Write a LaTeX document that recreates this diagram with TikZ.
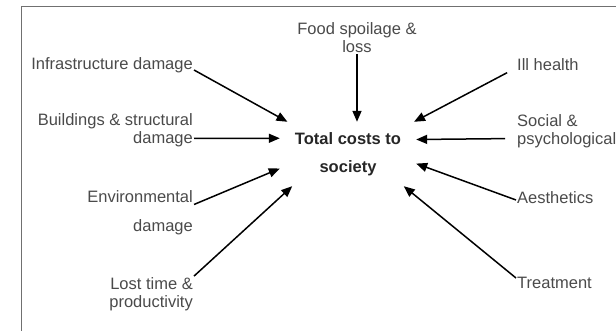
\documentclass[tikz,border=0pt]{standalone}
\usepackage{fontspec}
\setmainfont{Liberation Sans}
\usepackage{tikz}
\usetikzlibrary{arrows.meta}
\usetikzlibrary{positioning}
\definecolor{labelgrey}{HTML}{4A4A4A}
\definecolor{framegrey}{HTML}{707070}
\tikzset{costbox/.style = {text = labelgrey, inner sep = 1pt, font = \fontsize{16.5}{18}\selectfont},
  centrebox/.style = {text = black!85, inner sep = 0, minimum width = 136pt, minimum height = 64pt,
    align = center, font = \fontsize{16.5}{18}\selectfont\bfseries},
  feed/.style = {line width = 1.5pt, -{Triangle[length = 11pt, width = 9pt]}}}

\begin{document}
\begin{tikzpicture}[x = 1pt, y = -1pt]
    \useasboundingbox (0, 0) rectangle (616, 331);
    \draw [framegrey, line width = 1pt] (21, 331) -- (21, 7) -- (616, 7);

    \node [centrebox] (total) at (348, 154) {Total costs to\\[10pt]society};

    \node [costbox, align = center] (food) at (357, 37.5) {Food spoilage \&\\loss};
    \node [costbox, anchor = east] (infra) at (194, 65) {Infrastructure damage};
    \node [costbox, anchor = east, align = right] (build) at (194, 130.5) {Buildings \& structural\\damage};
    \node [costbox, anchor = east, align = right] (env) at (194, 212.5) {Environmental\\[11pt]damage};
    \node [costbox, anchor = east, align = right] (lost) at (194, 294) {Lost time \&\\productivity};

    \node [costbox, anchor = west] (ill) at (516, 65) {Ill health};
    \node [costbox, anchor = west, align = left] (social) at (516, 131.5) {Social \&\\psychological};
    \node [costbox, anchor = west] (aes) at (516, 198) {Aesthetics};
    \node [costbox, anchor = west] (treat) at (516, 283) {Treatment};

    \draw [feed] (food.south) -- (food.south |- total.north);
    \draw [feed] ([yshift = -5pt] infra.east) -- (total.152);
    \draw [feed] ([yshift = -8pt] build.east) -- (total.167);
    \draw [feed] ([yshift = 8pt] env.east) -- (total.192);
    \draw [feed] (lost.north east) -- (total.210);

    \draw [feed, shorten <= 10pt] ([yshift = -3pt] ill.west) -- (total.26);
    \draw [feed, shorten <= 11pt] ([yshift = -7pt] social.west) -- (total.12);
    \draw [feed] ([yshift = -2pt] aes.west) -- (total.352);
    \draw [feed] ([yshift = 5pt] treat.west) -- (total.330);

  \end{tikzpicture}
\end{document}
